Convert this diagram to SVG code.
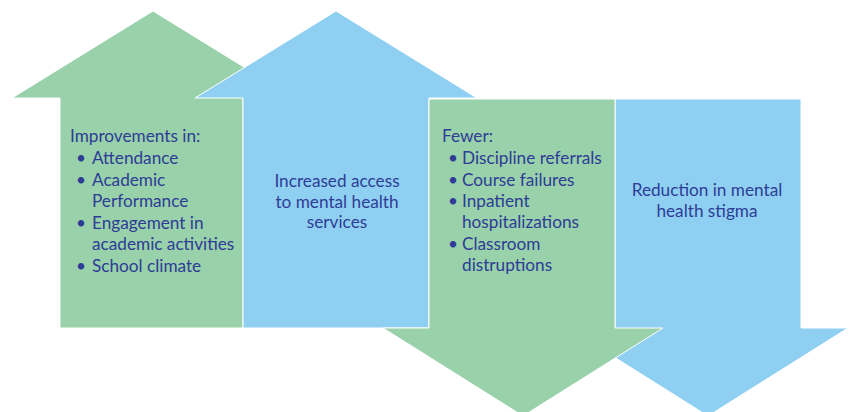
<svg xmlns="http://www.w3.org/2000/svg" width="853" height="412" viewBox="0 0 853 412">
  <style>
    .green { fill: #98d1aa; stroke: #ffffff; stroke-width: 1; }
    .blue { fill: #8fd0f2; stroke: #ffffff; stroke-width: 1; }
    text { font-family: Lato, "Noto Sans", sans-serif; font-size: 17.2px; fill: #2e3c96; }
    .mid { text-anchor: middle; }
  </style>
  <rect width="853" height="412" fill="#ffffff"/>

  <g id="improvements">
    <polygon class="green" points="153,11 294,98 243,98 243,328 60,328 60,98 12,98"/>
    <text x="70" y="142">Improvements in:</text>
    <text x="76" y="164">•</text><text x="92" y="164">Attendance</text>
    <text x="76" y="186">•</text><text x="92" y="186">Academic</text>
    <text x="92" y="207">Performance</text>
    <text x="76" y="229">•</text><text x="92" y="229">Engagement in</text>
    <text x="92" y="250">academic activities</text>
    <text x="76" y="272">•</text><text x="92" y="272">School climate</text>
  </g>

  <g id="access">
    <polygon class="blue" points="336,11 477,98 429,98 429,328 243,328 243,98 195,98"/>
    <text class="mid" x="337" y="187">Increased access</text>
    <text class="mid" x="337" y="208">to mental health</text>
    <text class="mid" x="337" y="228">services</text>
  </g>

  <g id="stigma">
    <polygon class="blue" points="615,99 801,99 801,328 848,328 708,416 568,328 615,328"/>
    <text class="mid" x="707" y="196">Reduction in mental</text>
    <text class="mid" x="707" y="217">health stigma</text>
  </g>

  <g id="fewer">
    <polygon class="green" points="429,99 615,99 615,328 663,328 523,416 383,328 429,328"/>
    <text x="442" y="142">Fewer:</text>
    <text x="448" y="164">•</text><text x="462" y="164">Discipline referrals</text>
    <text x="448" y="186">•</text><text x="462" y="186">Course failures</text>
    <text x="448" y="207">•</text><text x="462" y="207">Inpatient</text>
    <text x="462" y="228">hospitalizations</text>
    <text x="448" y="250">•</text><text x="462" y="250">Classroom</text>
    <text x="462" y="271">distruptions</text>
  </g>

  <g id="connectors"/>
</svg>
